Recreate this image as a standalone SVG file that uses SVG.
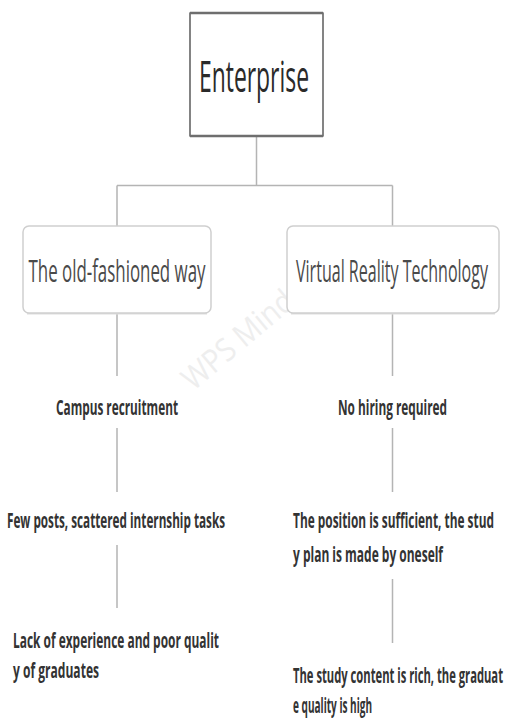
<svg xmlns="http://www.w3.org/2000/svg" width="505" height="720" viewBox="0 0 505 720">
  <style>
    .link { stroke: #b4b4b4; stroke-width: 1.5; fill: none; }
    .topic { fill: #ffffff; stroke: #cfcfcf; stroke-width: 1.5; }
    .shade { stroke: #dedede; stroke-width: 2; fill: none; }
    .t-root { font-family: "Open Sans", "Noto Sans", sans-serif; font-size: 44px; fill: #2a2a2a; }
    .t-main { font-family: "Open Sans", "Noto Sans", sans-serif; font-size: 31px; fill: #4a4a4a; }
    .t-sub { font-family: "Open Sans", "Noto Sans", sans-serif; font-size: 21px; font-weight: bold; fill: #333333; }
    .wm { font-family: "Open Sans", "Noto Sans", sans-serif; font-size: 32px; fill: #eeeeee; }
  </style>
  <rect width="505" height="720" fill="#ffffff"/>

  <!-- faint watermark -->
  <text class="wm" x="0" y="0" transform="translate(245,348) rotate(-40)" text-anchor="middle" textLength="135" lengthAdjust="spacingAndGlyphs">WPS Mind</text>

  <g id="connectors">
    <path class="link" d="M256.5,136 V185.5 M117,185.5 H392.5 M117,185.5 V226 M392.5,185.5 V226"/>
    <path class="link" d="M117,313 V376 M117,428 V492 M117,545 V608"/>
    <path class="link" d="M392.5,313 V376 M392.5,428 V492 M392.5,579 V643"/>
  </g>

  <g id="enterprise">
    <rect x="190" y="13" width="133" height="123" fill="#ffffff" stroke="#333333" stroke-width="1.2"/>
    <line x1="190" y1="13" x2="323" y2="13" stroke="#6e6e6e" stroke-width="2.5"/>
    <line x1="190" y1="136" x2="323" y2="136" stroke="#6e6e6e" stroke-width="2.5"/>
    <text class="t-root" x="254" y="92" text-anchor="middle" textLength="110" lengthAdjust="spacingAndGlyphs">Enterprise</text>
  </g>

  <g id="old-way">
    <line class="shade" x1="27" y1="313.5" x2="207" y2="313.5"/>
    <rect class="topic" x="23" y="226" width="188" height="87" rx="6"/>
    <text class="t-main" x="117" y="282" text-anchor="middle" textLength="177" lengthAdjust="spacingAndGlyphs">The old-fashioned way</text>
  </g>

  <g id="vr-tech">
    <line class="shade" x1="291" y1="313.5" x2="495" y2="313.5"/>
    <rect class="topic" x="287" y="226" width="212" height="87" rx="6"/>
    <text class="t-main" x="392" y="282" text-anchor="middle" textLength="192" lengthAdjust="spacingAndGlyphs">Virtual Reality Technology</text>
  </g>

  <g id="campus">
    <text class="t-sub" x="117" y="415" text-anchor="middle" textLength="122" lengthAdjust="spacingAndGlyphs">Campus recruitment</text>
  </g>

  <g id="no-hiring">
    <text class="t-sub" x="392.5" y="415" text-anchor="middle" textLength="109" lengthAdjust="spacingAndGlyphs">No hiring required</text>
  </g>

  <g id="few-posts">
    <text class="t-sub" x="7" y="528" textLength="218" lengthAdjust="spacingAndGlyphs">Few posts, scattered internship tasks</text>
  </g>

  <g id="lack-experience">
    <text class="t-sub" x="13" y="648" textLength="206" lengthAdjust="spacingAndGlyphs">Lack of experience and poor qualit</text>
    <text class="t-sub" x="13" y="678" textLength="86" lengthAdjust="spacingAndGlyphs">y of graduates</text>
  </g>

  <g id="position-sufficient">
    <text class="t-sub" x="293" y="528" textLength="201" lengthAdjust="spacingAndGlyphs">The position is sufficient, the stud</text>
    <text class="t-sub" x="293" y="562" textLength="150" lengthAdjust="spacingAndGlyphs">y plan is made by oneself</text>
  </g>

  <g id="content-rich">
    <text class="t-sub" x="293" y="683" textLength="210" lengthAdjust="spacingAndGlyphs">The study content is rich, the graduat</text>
    <text class="t-sub" x="293" y="713" textLength="79" lengthAdjust="spacingAndGlyphs">e quality is high</text>
  </g>
</svg>
